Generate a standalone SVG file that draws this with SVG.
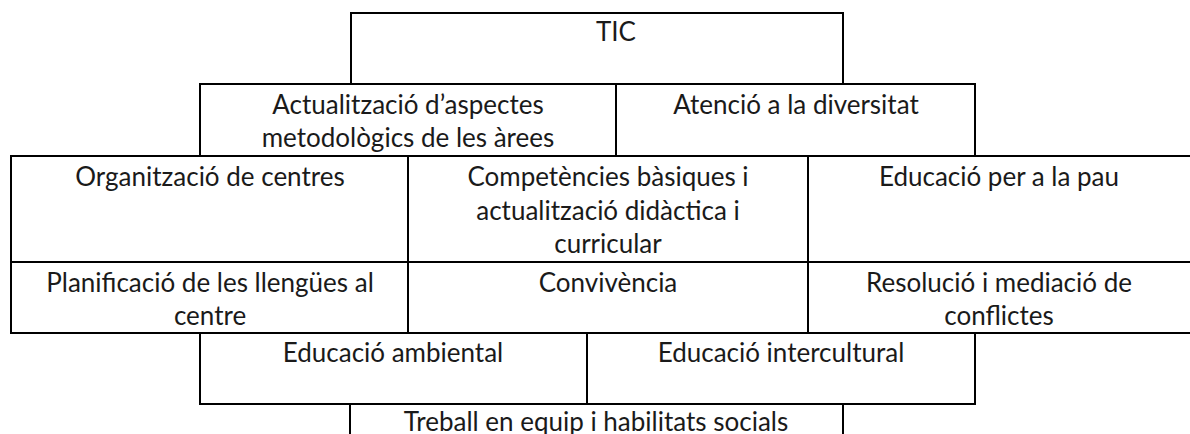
<svg xmlns="http://www.w3.org/2000/svg" width="1190" height="434" viewBox="0 0 1190 434">
<style>
.cell{fill:#fff;stroke:#000;stroke-width:2}
.t{font-family:"Lato","Liberation Sans",sans-serif;font-size:26px;fill:#1a1a1a;text-anchor:middle}
</style>
<rect width="1190" height="434" fill="#fff"/>
<g id="tic"><rect class="cell" x="351" y="13" width="492" height="71"/><text class="t" x="616" y="41">TIC</text></g>
<g id="actualitzacio"><rect class="cell" x="200" y="84" width="416" height="72"/><text class="t" x="408" y="114">Actualització d’aspectes</text><text class="t" x="408" y="147">metodològics de les àrees</text></g>
<g id="atencio"><rect class="cell" x="616" y="84" width="359" height="72"/><text class="t" x="796" y="114">Atenció a la diversitat</text></g>
<g id="organitzacio"><rect class="cell" x="11" y="156" width="397" height="106"/><text class="t" x="210" y="186">Organització de centres</text></g>
<g id="competencies"><rect class="cell" x="408" y="156" width="400" height="106"/><text class="t" x="608" y="186">Competències bàsiques i</text><text class="t" x="608" y="220">actualització didàctica i</text><text class="t" x="608" y="253">curricular</text></g>
<g id="pau"><rect class="cell" x="808" y="156" width="390" height="106"/><text class="t" x="999" y="186">Educació per a la pau</text></g>
<g id="planificacio"><rect class="cell" x="11" y="262" width="397" height="71"/><text class="t" x="210" y="292">Planificació de les llengües al</text><text class="t" x="210" y="325">centre</text></g>
<g id="convivencia"><rect class="cell" x="408" y="262" width="400" height="71"/><text class="t" x="608" y="292">Convivència</text></g>
<g id="resolucio"><rect class="cell" x="808" y="262" width="390" height="71"/><text class="t" x="999" y="292">Resolució i mediació de</text><text class="t" x="999" y="325">conflictes</text></g>
<g id="ambiental"><rect class="cell" x="200" y="333" width="387" height="71"/><text class="t" x="393" y="362">Educació ambiental</text></g>
<g id="intercultural"><rect class="cell" x="587" y="333" width="388" height="71"/><text class="t" x="781" y="362">Educació intercultural</text></g>
<g id="treball"><rect class="cell" x="350" y="404" width="493" height="40"/><text class="t" x="596" y="431">Treball en equip i habilitats socials</text></g>
<g id="connectors"></g>
</svg>
